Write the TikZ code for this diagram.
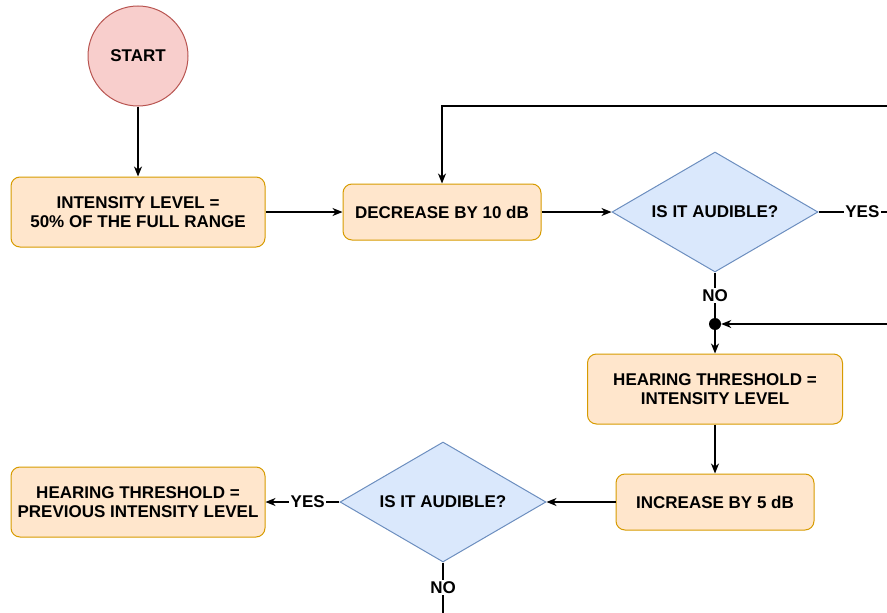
\documentclass[tikz,border=0pt]{standalone}
\usepackage{fontspec}
\setmainfont{Liberation Sans}
\usepackage{xcolor}
\usetikzlibrary{shapes.geometric, arrows.meta, positioning}

\definecolor{startfill}{HTML}{F8CECC}
\definecolor{startline}{HTML}{B85450}
\definecolor{boxfill}{HTML}{FFE6CC}
\definecolor{boxline}{HTML}{D79B00}
\definecolor{askfill}{HTML}{DAE8FC}
\definecolor{askline}{HTML}{6C8EBF}

\begin{document}
\begin{tikzpicture}[
    x=1pt, y=-1pt,
    every node/.style={font=\bfseries\fontsize{17}{19.5}\selectfont, align=center},
    state/.style={rectangle, rounded corners=9pt, draw=boxline, fill=boxfill, line width=1pt, inner sep=0pt, minimum height=56pt},
    decision/.style={diamond, aspect=1.7, draw=askline, fill=askfill, line width=1pt, inner sep=0pt, minimum width=206pt, minimum height=120pt},
    arrow/.style={-{Stealth[length=10pt, width=8pt, inset=3pt]}, line width=1.4pt},
    link/.style={line width=1.4pt},
    lbl/.style={fill=white, inner sep=1.5pt}
]
\useasboundingbox (0,0) rectangle (887,613);

\node[circle, draw=startline, fill=startfill, line width=1pt, minimum size=100pt, inner sep=0pt] (start) at (138,56) {START};
\node[state, minimum width=254pt, minimum height=70pt] (initlevel) at (138,212) {INTENSITY LEVEL =\\50\% OF THE FULL RANGE};
\node[state, minimum width=198pt] (decrease) at (442,212) {DECREASE BY 10 dB};
\node[decision] (audible) at (715,212) {IS IT AUDIBLE?};
\node[circle, fill=black, inner sep=0pt, minimum size=12pt] (junction) at (715,324) {};
\node[state, minimum width=255pt, minimum height=70pt] (threshold) at (715,389) {HEARING THRESHOLD =\\INTENSITY LEVEL};
\node[state, minimum width=198pt] (increase) at (715,502) {INCREASE BY 5 dB};
\node[decision] (audibleb) at (443,502) {IS IT AUDIBLE?};
\node[state, minimum width=254pt, minimum height=70pt] (prevlevel) at (138,502) {HEARING THRESHOLD =\\PREVIOUS INTENSITY LEVEL};

\coordinate (loopback) at (887,106);
\coordinate (yesout) at (887,212);
\coordinate (rejoin) at (887,324);
\coordinate (noout) at (443,613);

\draw[arrow] (start) -- (initlevel);
\draw[arrow] (initlevel) -- (decrease);
\draw[arrow] (decrease) -- (audible);
\draw[arrow] (loopback) -| (decrease);
\draw[link] (audible) -- node[lbl, pos=0.64] {YES} (yesout);
\draw[link] (audible) -- node[lbl] {NO} (junction);
\draw[arrow] (rejoin) -- (junction);
\draw[arrow] (junction) -- (threshold);
\draw[arrow] (threshold) -- (increase);
\draw[arrow] (increase) -- (audibleb);
\draw[arrow] (audibleb) -- node[lbl, pos=0.43] {YES} (prevlevel);
\draw[link] (audibleb) -- node[lbl] {NO} (noout);
\end{tikzpicture}
\end{document}
